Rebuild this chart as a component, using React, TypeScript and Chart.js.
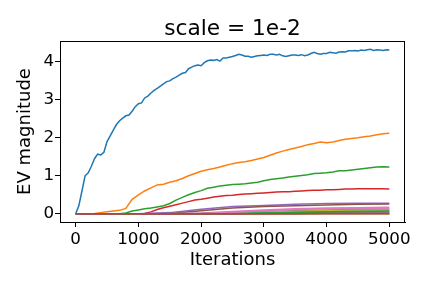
import React, { useEffect, useRef } from "react";
import { Chart, registerables } from "chart.js";

Chart.register(...registerables);

const TITLE = "scale = 1e-2";
const X_LABEL = "Iterations";
const Y_LABEL = "EV magnitude";
const X_TICKS = [0, 1000, 2000, 3000, 4000, 5000];
const Y_TICKS = [0, 1, 2, 3, 4];

const COLORS = [
  "#1f77b4", "#ff7f0e", "#2ca02c", "#d62728", "#9467bd",
  "#8c564b", "#e377c2", "#7f7f7f", "#bcbd22", "#17becf",
];

// Series 1 (blue), sampled every 50 iterations
const blueIter = Array.from({ length: 101 }, (_, i) => i * 50);
const blueVals = [
  0.0, 0.21, 0.6, 1.0, 1.08, 1.25, 1.45, 1.57, 1.55, 1.62,
  1.9, 2.05, 2.2, 2.35, 2.45, 2.52, 2.58, 2.6, 2.7, 2.82,
  2.9, 2.92, 3.05, 3.1, 3.18, 3.25, 3.3, 3.36, 3.42, 3.48,
  3.5, 3.56, 3.6, 3.65, 3.7, 3.72, 3.82, 3.86, 3.9, 3.92,
  3.9, 3.98, 4.03, 4.05, 4.04, 4.06, 4.02, 4.1, 4.1, 4.12,
  4.14, 4.17, 4.2, 4.18, 4.15, 4.15, 4.12, 4.14, 4.16, 4.17,
  4.18, 4.17, 4.2, 4.2, 4.18, 4.2, 4.16, 4.14, 4.16, 4.18,
  4.18, 4.17, 4.19, 4.16, 4.18, 4.22, 4.25, 4.22, 4.2, 4.22,
  4.22, 4.25, 4.24, 4.23, 4.26, 4.27, 4.26, 4.29, 4.29, 4.3,
  4.29, 4.31, 4.3, 4.32, 4.33, 4.3, 4.32, 4.31, 4.3, 4.32, 4.31,
];

// Series 2-4, sampled every 100 iterations
const iter100 = Array.from({ length: 51 }, (_, i) => i * 100);
const orangeVals = [
  0, 0, 0, 0.01, 0.03, 0.05, 0.07, 0.09, 0.14, 0.38,
  0.5, 0.6, 0.68, 0.76, 0.78, 0.83, 0.87, 0.93, 1.0, 1.06,
  1.12, 1.16, 1.19, 1.23, 1.28, 1.32, 1.35, 1.37, 1.4, 1.44,
  1.48, 1.54, 1.6, 1.65, 1.69, 1.73, 1.77, 1.82, 1.85, 1.89,
  1.87, 1.89, 1.93, 1.96, 1.98, 2.0, 2.03, 2.05, 2.08, 2.11, 2.12,
];
const greenVals = [
  0, 0, 0, 0, 0, 0, 0, 0, 0.02, 0.07,
  0.1, 0.13, 0.15, 0.18, 0.21, 0.27, 0.36, 0.43, 0.5, 0.56,
  0.61, 0.67, 0.7, 0.73, 0.75, 0.77, 0.78, 0.79, 0.81, 0.83,
  0.87, 0.9, 0.92, 0.94, 0.97, 0.99, 1.01, 1.03, 1.06, 1.07,
  1.08, 1.1, 1.13, 1.13, 1.15, 1.17, 1.19, 1.21, 1.23, 1.24, 1.23,
];
const redVals = [
  0, 0, 0, 0, 0, 0, 0, 0, 0, 0,
  0, 0.01, 0.05, 0.11, 0.16, 0.2, 0.24, 0.28, 0.32, 0.36,
  0.38, 0.41, 0.44, 0.46, 0.48, 0.49, 0.51, 0.52, 0.53, 0.54,
  0.55, 0.56, 0.57, 0.58, 0.58, 0.59, 0.6, 0.61, 0.62, 0.62,
  0.63, 0.63, 0.64, 0.65, 0.65, 0.66, 0.66, 0.66, 0.66, 0.66, 0.65,
];

// Smaller series, sampled every 500 iterations
const iter500 = [0, 500, 1000, 1500, 2000, 2500, 3000, 3500, 4000, 4500, 5000];
const purpleVals = [0, 0, 0, 0.03, 0.12, 0.19, 0.22, 0.25, 0.27, 0.28, 0.28];
const brownVals = [0, 0, 0, 0.01, 0.08, 0.15, 0.19, 0.21, 0.23, 0.25, 0.26];
const pinkVals = [0, 0, 0, 0, 0.02, 0.06, 0.1, 0.13, 0.15, 0.16, 0.17];
const greyVals = [0, 0, 0, 0, 0.01, 0.03, 0.06, 0.08, 0.1, 0.11, 0.12];
const oliveVals = [0, 0, 0, 0, 0, 0.02, 0.04, 0.06, 0.08, 0.09, 0.1];
const cyanVals = [0, 0, 0, 0, 0, 0.01, 0.02, 0.04, 0.05, 0.06, 0.06];
const blue2Vals = [0, 0, 0, 0, 0, 0, 0.01, 0.01, 0.02, 0.02, 0.02];
const orange2Vals = [0, 0, 0, 0, 0, 0, 0, 0.01, 0.01, 0.01, 0.01];
const green2Vals = [0, 0, 0, 0, 0, 0.01, 0.02, 0.03, 0.05, 0.06, 0.07];
const pink2Vals = [0, 0, 0, 0, 0.01, 0.04, 0.08, 0.11, 0.13, 0.14, 0.14];
const red2Vals = [0, 0, 0, 0, 0, 0, 0, 0, 0.005, 0.005, 0.005];
const brown2Vals = [0, 0, 0, 0, 0, 0, 0, 0, 0, 0, 0];

const SERIES: { iters: number[]; vals: number[]; color: string }[] = [
  { iters: blueIter, vals: blueVals, color: COLORS[0] },
  { iters: iter100, vals: orangeVals, color: COLORS[1] },
  { iters: iter100, vals: greenVals, color: COLORS[2] },
  { iters: iter100, vals: redVals, color: COLORS[3] },
  { iters: iter500, vals: purpleVals, color: COLORS[4] },
  { iters: iter500, vals: brownVals, color: COLORS[5] },
  { iters: iter500, vals: pinkVals, color: COLORS[6] },
  { iters: iter500, vals: greyVals, color: COLORS[7] },
  { iters: iter500, vals: oliveVals, color: COLORS[8] },
  { iters: iter500, vals: cyanVals, color: COLORS[9] },
  { iters: iter500, vals: blue2Vals, color: COLORS[0] },
  { iters: iter500, vals: orange2Vals, color: COLORS[1] },
  { iters: iter500, vals: green2Vals, color: COLORS[2] },
  { iters: iter500, vals: pink2Vals, color: COLORS[6] },
  { iters: iter500, vals: red2Vals, color: COLORS[3] },
  { iters: iter500, vals: brown2Vals, color: COLORS[5] },
];

const FONT = "'DejaVu Sans', sans-serif";

const textPlugin = {
  id: "mplText",
  afterDraw(chart: any) {
    const { ctx, chartArea } = chart;
    const { left, right, top, bottom } = chartArea;
    ctx.save();
    // spines
    ctx.strokeStyle = "#000";
    ctx.lineWidth = 1;
    ctx.strokeRect(left + 0.5, top + 0.5, right - left - 1, bottom - top);
    ctx.fillStyle = "#000";
    const cx = (left + right) / 2;
    ctx.textAlign = "center";
    ctx.textBaseline = "alphabetic";
    ctx.font = `21.7px ${FONT}`;
    ctx.fillText(TITLE, cx, 35);
    ctx.font = `18px ${FONT}`;
    ctx.fillText(X_LABEL, cx, 265);
    ctx.translate(29.5, (top + bottom) / 2);
    ctx.rotate(-Math.PI / 2);
    ctx.fillText(Y_LABEL, 0, 0);
    ctx.restore();
  },
};

export default function App() {
  const ref = useRef<HTMLCanvasElement | null>(null);
  useEffect(() => {
    if (!ref.current) return;
    const datasets = SERIES.map((s, i) => ({
      data: s.iters.map((x, j) => ({ x, y: s.vals[j] })),
      borderColor: s.color,
      backgroundColor: s.color,
      borderWidth: 1.5,
      pointRadius: 0,
      tension: 0,
      fill: false,
      order: -i,
    }));
    const chart = new Chart(ref.current, {
      type: "line",
      data: { datasets },
      plugins: [textPlugin],
      options: {
        animation: false,
        responsive: false,
        devicePixelRatio: 1,
        layout: { padding: { left: 0, right: 27, top: 41, bottom: 0 } },
        plugins: { legend: { display: false }, title: { display: false }, tooltip: { enabled: false } },
        scales: {
          x: {
            type: "linear",
            min: -250,
            max: 5250,
            afterFit(scale: any) { scale.height = 66; },
            afterBuildTicks(scale: any) { scale.ticks = X_TICKS.map((v) => ({ value: v })); },
            grid: { drawOnChartArea: false, drawTicks: true, tickLength: 5, tickColor: "#000", lineWidth: 1 },
            border: { display: true, color: "#000", width: 1 },
            ticks: {
              color: "#000",
              font: { family: FONT, size: 16.7 },
              padding: 3,
              maxRotation: 0,
              autoSkip: false,
              callback: (v: any) => String(v),
            },
          },
          y: {
            type: "linear",
            min: -0.217,
            max: 4.55,
            afterFit(scale: any) { scale.width = 60; },
            afterBuildTicks(scale: any) { scale.ticks = Y_TICKS.map((v) => ({ value: v })); },
            grid: { drawOnChartArea: false, drawTicks: true, tickLength: 5, tickColor: "#000", lineWidth: 1 },
            border: { display: true, color: "#000", width: 1 },
            ticks: {
              color: "#000",
              font: { family: FONT, size: 16.7 },
              padding: 1,
              autoSkip: false,
              callback: (v: any) => String(v),
            },
          },
        },
      },
    });
    return () => chart.destroy();
  }, []);
  return (
    <div style={{ position: "fixed", left: 0, top: 0, width: 432, height: 288, background: "#fff" }}>
      <canvas ref={ref} width={432} height={288} style={{ width: 432, height: 288 }} />
    </div>
  );
}
